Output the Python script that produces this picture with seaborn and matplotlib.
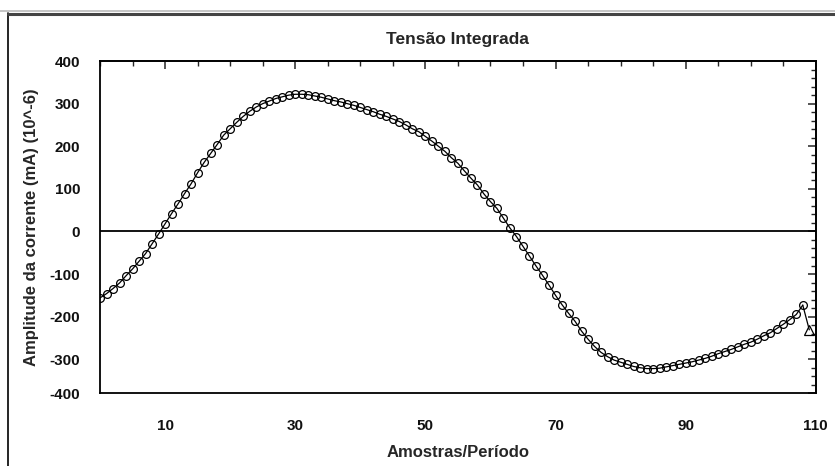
import numpy as np
import pandas as pd
import seaborn as sns
import matplotlib.pyplot as plt
from matplotlib.lines import Line2D
from matplotlib.ticker import MultipleLocator, FixedLocator

# values (one sample per step)
amostras = list(range(0, 109))
tensao = [
    -156, -146, -134, -121, -104, -88, -70, -52, -29, -6,
    18, 42, 65, 89, 112, 138, 162, 183, 204, 226,
    241, 256, 270, 282, 292, 300, 306, 312, 316, 320,
    322, 322, 321, 318, 315, 311, 307, 304, 300, 296,
    291, 286, 281, 275, 270, 264, 258, 250, 241, 234,
    223, 212, 200, 188, 173, 160, 142, 125, 109, 88,
    70, 54, 31, 8, -12, -35, -58, -81, -103, -126,
    -150, -172, -192, -211, -234, -253, -270, -284, -294, -302,
    -307, -312, -317, -320, -322, -322, -321, -318, -315, -312,
    -309, -306, -302, -298, -293, -287, -282, -277, -271, -265,
    -260, -253, -245, -238, -228, -218, -207, -195, -173,
]
ultimo_x = [108, 109]
ultimo_y = [-173, -231]

x_ticks = [10, 30, 50, 70, 90, 110]
# the chart's bottom edge sits at -380 but carries the label "-400"
y_ticks = [-380, -300, -200, -100, 0, 100, 200, 300, 400]
y_labels = ["-400", "-300", "-200", "-100", "0", "100", "200", "300", "400"]

df = pd.DataFrame({"x": amostras, "y": tensao})
df_fim = pd.DataFrame({"x": ultimo_x, "y": ultimo_y})

sns.set_style("white")
plt.rcParams["font.family"] = ["Liberation Sans", "DejaVu Sans"]
plt.rcParams["axes.unicode_minus"] = False

fig = plt.figure(figsize=(8.35, 4.66), dpi=100)
ax = fig.add_axes([0.1198, 0.156, 0.8572, 0.713])

sns.lineplot(data=df, x="x", y="y", ax=ax, color="black", lw=0.9,
             marker="o", ms=5.6, mfc="none", mec="black", mew=0.9)
sns.lineplot(data=df_fim, x="x", y="y", ax=ax, color="black", lw=0.9)
sns.lineplot(x=ultimo_x[1:], y=ultimo_y[1:], ax=ax, color="black",
             marker="^", ms=6.5, mfc="none", mec="black", mew=0.9)

ax.axhline(0, color="black", lw=1.3, zorder=1)

ax.set_xlim(0, 110)
ax.set_ylim(-380, 400)
ax.xaxis.set_major_locator(FixedLocator(x_ticks))
ax.xaxis.set_minor_locator(MultipleLocator(5))
ax.set_yticks(y_ticks, y_labels)
ax.yaxis.set_minor_locator(MultipleLocator(20))

for s in ax.spines.values():
    s.set_visible(True)
    s.set_color("black")
    s.set_linewidth(1.3)

ax.tick_params(which="major", direction="inout", length=8.5, width=1.1,
               colors="black", labelsize=11, top=False, right=False)
ax.tick_params(which="minor", direction="inout", length=5, width=1.0,
               colors="black", top=False, right=False)
ax.tick_params(axis="x", which="major", pad=14)
ax.tick_params(axis="y", which="major", pad=10)
for lbl in ax.get_xticklabels() + ax.get_yticklabels():
    lbl.set_fontweight("bold")
    lbl.set_color("#111111")

# inward ticks on the top and right frame
top = ax.secondary_xaxis("top")
top.xaxis.set_major_locator(FixedLocator(x_ticks))
top.xaxis.set_minor_locator(MultipleLocator(5))
top.tick_params(which="major", direction="in", length=6, width=1.1,
                labeltop=False)
top.tick_params(which="minor", direction="in", length=3.5, width=1.0)
top.spines["top"].set_linewidth(1.3)

right = ax.secondary_yaxis("right")
right.yaxis.set_major_locator(FixedLocator(y_ticks))
right.yaxis.set_minor_locator(MultipleLocator(20))
right.tick_params(which="major", direction="in", length=6, width=1.1,
                  labelright=False)
right.tick_params(which="minor", direction="in", length=3.5, width=1.0)
right.spines["right"].set_linewidth(1.3)

ax.set_title("Tensão Integrada", fontsize=12.5, fontweight="bold", pad=12)
ax.set_xlabel("Amostras/Período", fontsize=12, fontweight="bold")
ax.set_ylabel("Amplitude da corrente (mA) (10^-6)", fontsize=12,
              fontweight="bold")
ax.xaxis.set_label_coords(0.5, -0.157)
ax.yaxis.set_label_coords(-0.085, 0.5)

# outer frame of the original window
fig.add_artist(Line2D([8 / 835, 8 / 835], [0, 1 - 13 / 466],
                      transform=fig.transFigure, color="black", lw=1.2))
fig.add_artist(Line2D([8 / 835, 1], [1 - 13.5 / 466, 1 - 13.5 / 466],
                      transform=fig.transFigure, color="#444444", lw=2.2))
fig.add_artist(Line2D([0, 1], [1 - 10.5 / 466, 1 - 10.5 / 466],
                      transform=fig.transFigure, color="#bbbbbb", lw=1.2))

fig.savefig("out.png", dpi=100)
